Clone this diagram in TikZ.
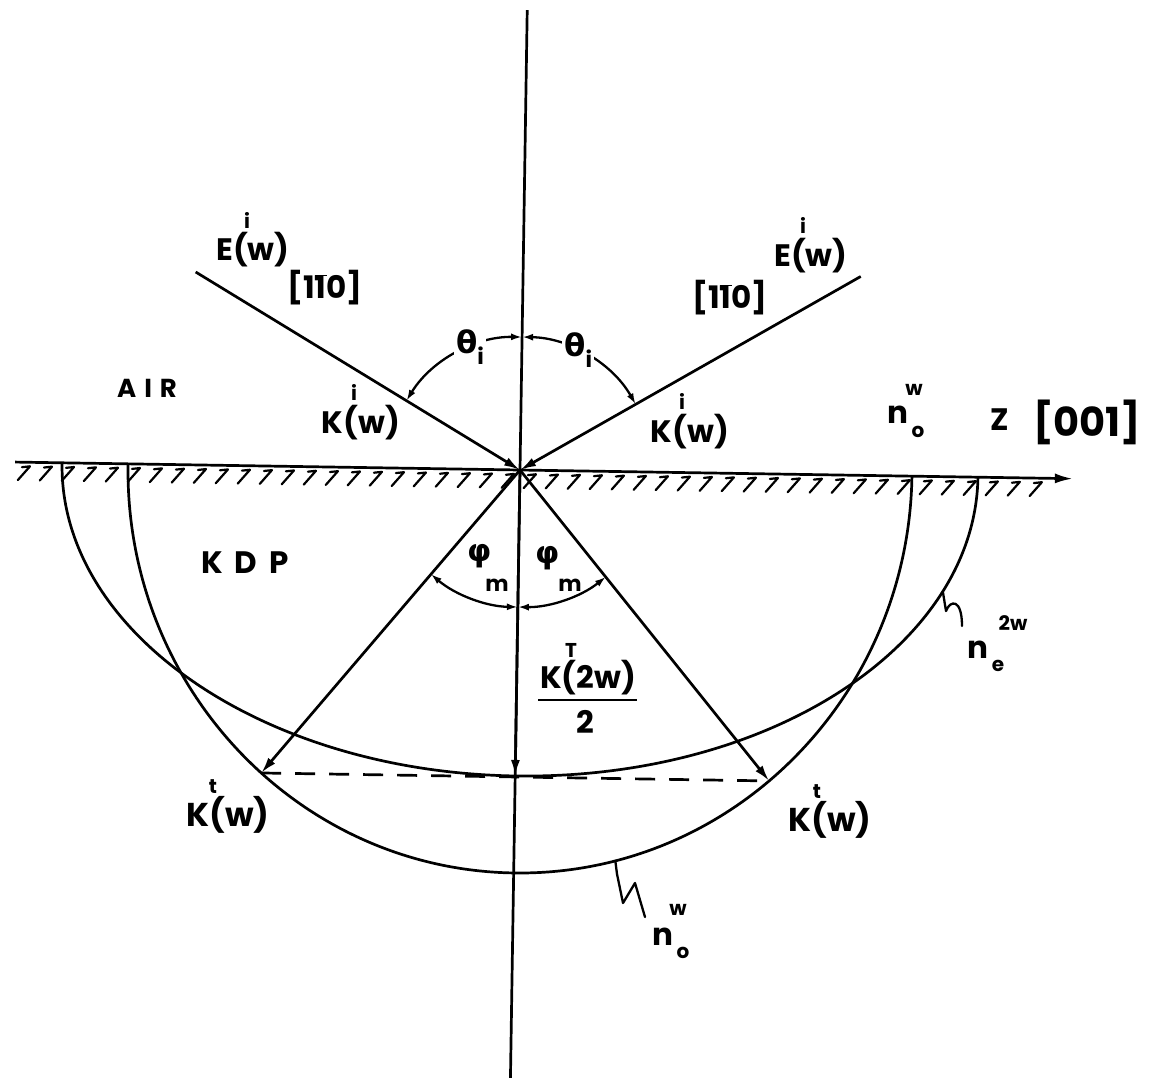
\documentclass[tikz,border=0pt]{standalone}
\usepackage{fontspec}
\setmainfont{Poppins}
\newfontfamily\grk{DejaVu Sans}
\usetikzlibrary{arrows.meta}
\newcommand\obar[1]{\ensuremath{\overline{\hbox{#1}}}}
\begin{document}
\begin{tikzpicture}[x=1pt,y=-1pt,
  every node/.style={inner sep=0pt, font=\bfseries\fontsize{31}{31}\selectfont},
  scr/.style={font=\bfseries\fontsize{20}{20}\selectfont},
  grkfont/.style={font=\grk\bfseries\fontsize{31}{31}\selectfont},
  ln/.style={line width=2.7pt},
  tip/.style={line width=2.7pt, -{Latex[length=16pt,width=9pt]}},
  ang/.style={line width=2.3pt, {Latex[length=11pt,width=7pt]}-{Latex[length=11pt,width=7pt]}},
  hatch/.style={line width=2.2pt, line cap=round, line join=round},
  leader/.style={line width=2.3pt, line join=round, line cap=round}]
\useasboundingbox (0,0) rectangle (1163,1080);
\fill[white] (0,0) rectangle (1163,1080);
\begin{scope}[shift={(520,470)}, rotate=-0.9]
  \coordinate (O) at (0,0);
  \coordinate (Vt) at (0,-460);
  \coordinate (Vb) at (0,608);
  \coordinate (Hl) at (-505,0);
  \coordinate (Hr) at (553,0);
  \coordinate (Il) at (-327.4,-192.9);
  \coordinate (Ir) at (337.7,-198.9);
  \coordinate (Tl) at (-254,307);
  \coordinate (Tr) at (254,307);
  \coordinate (Kb) at (0,306);
  \draw[ln] (Vt) -- (Vb);
  \draw[ln, -{Latex[length=18pt,width=10pt]}] (Hl) -- (Hr);
  \foreach \h in {-494,-472,...,520} \draw[hatch] (\h-4,5) -- (\h+4,4) -- (\h-8,18);
  \draw[ln] (-392,0) arc[start angle=180,end angle=0,x radius=392,y radius=403];
  \draw[ln] (-458,0) arc[start angle=180,end angle=0,x radius=458,y radius=306];
  \draw[tip] (Il) -- (O);
  \draw[tip] (Ir) -- (O);
  \draw[tip] (O) -- (Tl);
  \draw[tip] (O) -- (Tr);
  \draw[tip] (O) -- (Kb);
  \draw[ln, dash pattern=on 20pt off 14pt] (Tl) -- (Tr);
  \draw[ang] (0,-133) arc[start angle=-90,end angle=-149.5,radius=133];
  \draw[ang] (0,-133) arc[start angle=-90,end angle=-30.5,radius=133];
  \draw[ang] (0,137) arc[start angle=90,end angle=129.7,radius=137];
  \draw[ang] (0,137) arc[start angle=90,end angle=50.3,radius=137];
  \node[fill=white, inner sep=2pt] (thl) at (-113:133) {{\grk θ}\raisebox{-0.35em}{\fontsize{22}{22}\selectfont i}};
  \node[fill=white, inner sep=2pt] (thr) at (-65:133) {{\grk θ}\raisebox{-0.35em}{\fontsize{22}{22}\selectfont i}};
  \coordinate (Lo) at (75:392 and 403);
  \coordinate (Le) at (22:458 and 306);
\end{scope}
% leaders
\draw[leader] (Lo) -- (617,874) -- (623,903) -- (635,883) -- (645,917);
\draw[leader] (Le) -- (946,611) .. controls (950,600) and (962,598) .. (962,626);
% labels
\node (Eil) at (253,250) {E(w)};
\node[scr] (Eils) at (247,220) {i};
\node (Bl) at (325,288) {[1\obar{1}0]};
\node (Eir) at (811,256) {E(w)};
\node[scr] (Eirs) at (803,225) {i};
\node (Br) at (730,298) {[1\obar{1}0]};
\node (Kil) at (361,423) {K(w)};
\node[scr] (Kils) at (354,392) {i};
\node (Kir) at (690,432) {K(w)};
\node[scr] (Kirs) at (682,401) {i};
\node[font=\bfseries\fontsize{26}{26}\selectfont] (air) at (147,388) {A\hspace{8pt}I\hspace{8pt}R};
\node (kdp) at (245,563) {K\hspace{12pt}D\hspace{12pt}P};
\node (ntop) at (898,415) {n};
\node[scr] (ntopo) at (918,432) {o};
\node[scr] (ntopw) at (914,390) {w};
\node (z) at (1000,420) {Z};
\node[font=\bfseries\fontsize{40}{40}\selectfont] (zb) at (1087,422) {[001]};
\node[grkfont] (phl) at (480,556) {φ};
\node[font=\bfseries\fontsize{22}{22}\selectfont] (ml) at (497,585) {m};
\node[grkfont] (phr) at (548,558) {φ};
\node[font=\bfseries\fontsize{22}{22}\selectfont] (mr) at (570,585) {m};
\node (kT) at (588,678) {K(2w)};
\node[scr] (kTs) at (571,650) {T};
\node (two) at (585,722) {2};
\draw[line width=2.6pt] (538,700) -- (637,700);
\node[font=\bfseries\fontsize{33}{33}\selectfont] (ktl) at (228,815) {K(w)};
\node[scr] (ktls) at (213,787) {t};
\node[font=\bfseries\fontsize{33}{33}\selectfont] (ktr) at (830,820) {K(w)};
\node[scr] (ktrs) at (817,792) {t};
\node (nb) at (663,937) {n};
\node[scr] (nbo) at (683,953) {o};
\node[scr] (nbw) at (678,910) {w};
\node (ne) at (978,650) {n};
\node[scr] (nee) at (998,666) {e};
\node[scr] (ne2w) at (1013,623) {2w};
\end{tikzpicture}
\end{document}
